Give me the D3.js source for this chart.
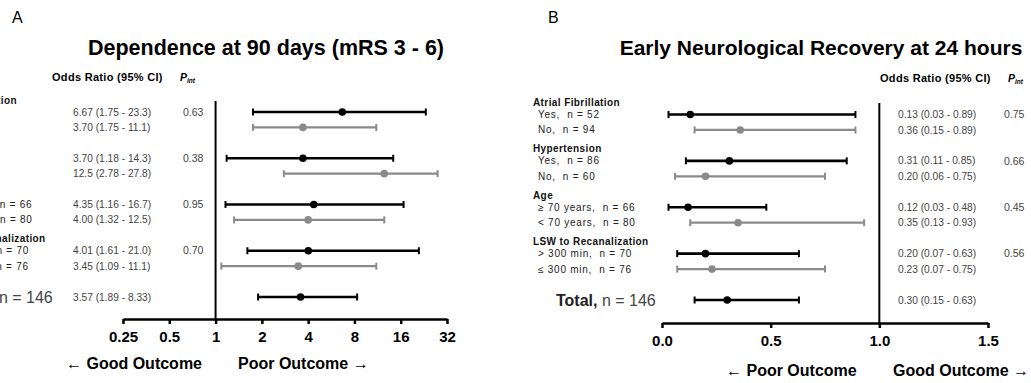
<!DOCTYPE html>
<html><head><meta charset="utf-8">
<script src="https://cdn.jsdelivr.net/npm/d3@7"></script>
<style>
body{margin:0;background:#fff}
svg{display:block}
text{font-family:"Liberation Sans",Arial,Helvetica,sans-serif; white-space:pre}
</style>
</head><body>
<svg id="c" width="1031" height="383"></svg>
<script>
// ---------- data ----------
const groups = ["Atrial Fibrillation", "Hypertension", "Age", "LSW to Recanalization"];
const rowLabels = ["Yes,  n = 52", "No,  n = 94", "Yes,  n = 86", "No,  n = 60",
                   "\u2265 70 years,  n = 66", "< 70 years,  n = 80",
                   "> 300 min,  n = 70", "\u2264 300 min,  n = 76"];
const totalName = "Total,";
const totalN = "n = 146";

// Panel A: Dependence at 90 days (mRS 3-6), odds ratios
const depOR  = [6.67, 3.70, 3.70, 12.5, 4.35, 4.00, 4.01, 3.45];
const depLo  = [1.75, 1.75, 1.18, 2.78, 1.16, 1.32, 1.61, 1.09];
const depHi  = [23.3, 11.1, 14.3, 27.8, 16.7, 12.5, 21.0, 11.1];
const depTotal = [3.57, 1.89, 8.33];
const depP   = ["0.63", "0.38", "0.95", "0.70"];
const depTicks = [0.25, 0.5, 1, 2, 4, 8, 16, 32];
const depTickLabels = ["0.25", "0.5", "1", "2", "4", "8", "16", "32"];

// Panel B: Early neurological recovery at 24 hours, odds ratios
const enrOR  = [0.13, 0.36, 0.31, 0.20, 0.12, 0.35, 0.20, 0.23];
const enrLo  = [0.03, 0.15, 0.11, 0.06, 0.03, 0.13, 0.07, 0.07];
const enrHi  = [0.89, 0.89, 0.85, 0.75, 0.48, 0.93, 0.63, 0.75];
const enrTotal = [0.30, 0.15, 0.63];
const enrP   = ["0.75", "0.66", "0.45", "0.56"];
const enrTicks = [0, 0.5, 1, 1.5];
const enrTickLabels = ["0.0", "0.5", "1.0", "1.5"];

const fmt2 = v => v >= 10 ? d3.format(".1f")(v) : d3.format(".2f")(v);
const fmtR = v => d3.format(".2f")(v);

// ---------- drawing ----------
const svg = d3.select("#c");

function panel(cfg) {
  const g = svg.append("g");
  const n = cfg.or.length;
  const slots = d3.range(n).map(i => Math.floor(i / 2) * 3 + (i % 2));
  const totalSlot = slots[n - 1] + 2;
  const y = d3.scaleLinear().domain([0, totalSlot]).range([cfg.y0, cfg.y1]);
  const x = cfg.x;

  // letter + title
  g.append("text").attr("x", cfg.letterX).attr("y", 23).attr("font-size", 16).text(cfg.letter);
  g.append("text").attr("x", cfg.titleX).attr("y", 55).attr("text-anchor", "middle")
    .attr("font-size", cfg.titleSize).attr("font-weight", "bold").text(cfg.title);

  // headers
  g.append("text").attr("x", cfg.hdrX).attr("y", cfg.hdrY).attr("font-size", 11)
    .attr("font-weight", "bold").attr("letter-spacing", 0.3).text("Odds Ratio (95% CI)");
  const pt = g.append("text").attr("x", cfg.pHdrX).attr("y", cfg.hdrY).attr("font-size", 10.5)
    .attr("font-weight", "bold").attr("font-style", "italic");
  pt.append("tspan").text("P");
  pt.append("tspan").attr("font-size", 6.5).attr("dy", 2).text("int");

  // group labels and row labels
  groups.forEach((gr, k) => {
    g.append("text").attr("x", cfg.labX).attr("y", y(k * 3) - 12).attr("dy", "0.35em")
      .attr("font-size", 10).attr("font-weight", "bold").attr("letter-spacing", 0.4)
      .attr("fill", "#111").text(gr);
  });
  rowLabels.forEach((lb, i) => {
    g.append("text").attr("x", cfg.labX + 5).attr("y", y(slots[i])).attr("dy", "0.35em")
      .attr("font-size", 10).attr("letter-spacing", 0.75).attr("fill", "#222").text(lb);
  });
  const tt = g.append("text").attr("x", cfg.labX + 23).attr("y", y(totalSlot)).attr("dy", "0.35em")
    .attr("font-size", 16).attr("fill", "#222");
  tt.append("tspan").attr("font-weight", "bold").text(totalName + " ");
  tt.append("tspan").attr("fill", "#444").text(totalN);

  // CI texts
  const rows = d3.range(n).map(i => ({or: cfg.or[i], lo: cfg.lo[i], hi: cfg.hi[i], s: slots[i], c: i % 2 ? "#8a8a8a" : "#000"}));
  rows.push({or: cfg.total[0], lo: cfg.total[1], hi: cfg.total[2], s: totalSlot, c: "#000"});
  rows.forEach(r => {
    g.append("text").attr("x", cfg.ciX).attr("y", y(r.s)).attr("dy", "0.35em")
      .attr("font-size", 10.2).attr("fill", "#444")
      .text(`${cfg.f(r.or)} (${cfg.f(r.lo)} - ${cfg.f(r.hi)})`);
  });
  cfg.p.forEach((p, k) => {
    g.append("text").attr("x", cfg.pX).attr("y", y(k * 3)).attr("dy", "0.35em")
      .attr("font-size", 10.5).attr("fill", "#444").text(p);
  });

  // reference line
  g.append("line").attr("x1", x(cfg.ref)).attr("x2", x(cfg.ref))
    .attr("y1", cfg.refTop).attr("y2", cfg.axisY).attr("stroke", "#000").attr("stroke-width", 2);

  // CI bars
  rows.forEach(r => {
    const yy = y(r.s);
    const w = r.c === "#000" ? 2.6 : 2.3;
    g.append("line").attr("x1", x(r.lo)).attr("x2", x(r.hi)).attr("y1", yy).attr("y2", yy)
      .attr("stroke", r.c).attr("stroke-width", w);
    [r.lo, r.hi].forEach(v => g.append("line").attr("x1", x(v)).attr("x2", x(v))
      .attr("y1", yy - 3.5).attr("y2", yy + 3.5).attr("stroke", r.c).attr("stroke-width", 2));
    g.append("circle").attr("cx", x(r.or)).attr("cy", yy).attr("r", 3.8).attr("fill", r.c);
  });

  // axis
  const ax = g.append("g").attr("transform", `translate(0,${cfg.axisY})`)
    .call(d3.axisBottom(x).tickValues(cfg.ticks).tickFormat((d, i) => cfg.tickLabels[i])
      .tickSize(5).tickSizeOuter(0).tickPadding(7));
  ax.select(".domain").attr("stroke", "#000").attr("stroke-width", 2.5);
  ax.selectAll(".tick line").attr("stroke", "#000").attr("stroke-width", 2.5);
  ax.selectAll(".tick text").attr("font-size", 15).attr("font-weight", "bold").attr("fill", "#000")
    .attr("font-family", "Liberation Sans, Arial, sans-serif");

  // outcome labels
  const oL = g.append("text").attr("x", cfg.outL).attr("y", cfg.outY).attr("font-size", 16).attr("font-weight", "bold");
  oL.append("tspan").attr("font-weight", "normal").text("\u2190 ");
  oL.append("tspan").text(cfg.outcomes[0]);
  const oR = g.append("text").attr("x", cfg.outR).attr("y", cfg.outY).attr("font-size", 16).attr("font-weight", "bold");
  oR.append("tspan").text(cfg.outcomes[1] + " ");
  oR.append("tspan").attr("font-weight", "normal").text("\u2192");
}

panel({
  letter: "A", letterX: 12, title: "Dependence at 90 days (mRS 3 - 6)", titleX: 266, titleSize: 21.5,
  or: depOR, lo: depLo, hi: depHi, total: depTotal, p: depP, f: fmt2,
  x: d3.scaleLog().base(2).domain([0.25, 32]).range([123, 447]),
  ticks: depTicks, tickLabels: depTickLabels, ref: 1,
  y0: 112, y1: 297, refTop: 101, axisY: 319,
  labX: -70, ciX: 73, hdrX: 52, hdrY: 81, pHdrX: 180, pX: 183,
  outL: 66, outR: 238, outY: 369, outcomes: ["Good Outcome", "Poor Outcome"]
});

panel({
  letter: "B", letterX: 548, title: "Early Neurological Recovery at 24 hours", titleX: 821, titleSize: 21,
  or: enrOR, lo: enrLo, hi: enrHi, total: enrTotal, p: enrP, f: fmtR,
  x: d3.scaleLinear().domain([0, 1.5]).range([662, 988]),
  ticks: enrTicks, tickLabels: enrTickLabels, ref: 1,
  y0: 114.5, y1: 300, refTop: 103, axisY: 323,
  labX: 533, ciX: 898, hdrX: 880, hdrY: 82, pHdrX: 1008, pX: 1004,
  outL: 726, outR: 893, outY: 376, outcomes: ["Poor Outcome", "Good Outcome"]
});
</script>
</body></html>
